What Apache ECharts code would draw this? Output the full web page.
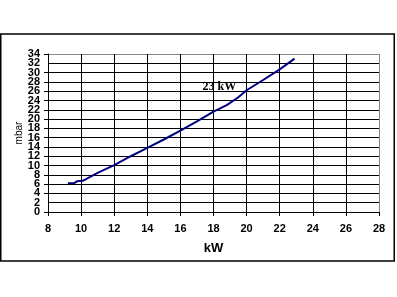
<!DOCTYPE html>
<html><head><meta charset="utf-8">
<script src="https://cdn.jsdelivr.net/npm/echarts@6/dist/echarts.min.js"></script>
<style>html,body{margin:0;padding:0;background:#fff}#c{width:397px;height:297px}</style>
</head><body><div id="c"></div>
<script>
const kW   = [9.2, 9.6, 9.75, 10.1, 11, 12, 13, 14, 15, 16, 17, 18, 18.8, 19.5, 20, 21, 22, 22.9];
const mbar = [6.2, 6.25, 6.6, 6.7, 8.4, 10.1, 12.0, 13.8, 15.6, 17.5, 19.5, 21.6, 23.0, 24.7, 26.2, 28.4, 30.7, 33.0];
const annotation = {text: '23 kW', x: 18.36, y: 26.9};
const xTicks = {min: 8, max: 28, interval: 2};
const yTicks = {min: 0, max: 34, interval: 2};

function colorsFor(t){ const n = Math.round((t.max-t.min)/t.interval)+1; const a=[]; for(let i=0;i<n;i++) a.push(i===n-1?'#888':'#000'); return a; }
// labels split over two overlapping axes so that ECharts does not drop neighbouring labels
const extraY = [yTicks.min + yTicks.interval, yTicks.max - yTicks.interval];
const labelStyle = {fontFamily:'Liberation Sans', fontWeight:'bold', fontSize:11, color:'#000'};

const chart = echarts.init(document.getElementById('c'), null, {renderer:'canvas'});
chart.setOption({
  animation:false,
  backgroundColor:'#fff',
  graphic:[{type:'rect', shape:{x:0.75,y:34,width:393.5,height:227}, style:{fill:'none', stroke:'#000', lineWidth:1.5}, z:-1}],
  grid:{left:48, top:54, right:18, bottom:85, containLabel:false},
  xAxis:{type:'value', min:xTicks.min, max:xTicks.max, interval:xTicks.interval,
    name:'kW', nameLocation:'middle', nameGap:30, nameMoveOverlap:false,
    nameTextStyle:{fontFamily:'Liberation Sans', fontWeight:'bold', fontSize:13, color:'#000'},
    axisLine:{lineStyle:{color:'#000', width:1}},
    axisTick:{show:true, length:4, lineStyle:{color:'#000'}},
    axisLabel:Object.assign({margin:11, showMinLabel:true, showMaxLabel:true, hideOverlap:false}, labelStyle),
    splitLine:{show:true, lineStyle:{color:colorsFor(xTicks), width:1}}},
  yAxis:[{type:'value', min:yTicks.min, max:yTicks.max, interval:yTicks.interval,
    name:'mbar', nameLocation:'middle', nameGap:24, nameRotate:90, nameMoveOverlap:false,
    nameTextStyle:{fontFamily:'Liberation Sans', fontSize:10, color:'#000'},
    axisLine:{show:true, lineStyle:{color:'#000', width:1}},
    axisTick:{show:true, length:4, lineStyle:{color:'#000'}},
    axisLabel:Object.assign({margin:8, showMinLabel:true, showMaxLabel:true, hideOverlap:false}, labelStyle),
    splitLine:{show:true, lineStyle:{color:colorsFor(yTicks), width:1}}},
   {type:'value', position:'left', min:yTicks.min, max:yTicks.max, interval:yTicks.interval,
    axisLine:{show:false}, axisTick:{show:false}, splitLine:{show:false},
    axisLabel:Object.assign({margin:8, hideOverlap:false, formatter:v => extraY.includes(v) ? String(v) : ''}, labelStyle)}],
  series:[{type:'line', yAxisIndex:0, data:kW.map((x,i)=>[x,mbar[i]]), showSymbol:false, symbol:'none',
    lineStyle:{color:'#000080', width:2}, z:5,
    markPoint:{symbol:'circle', symbolSize:0, silent:true,
      data:[{coord:[annotation.x, annotation.y], value:annotation.text}],
      label:{show:true, position:'inside', formatter:annotation.text, fontFamily:'Liberation Serif', fontSize:12, fontWeight:'bold', color:'#000'}}}]
});
</script></body></html>
